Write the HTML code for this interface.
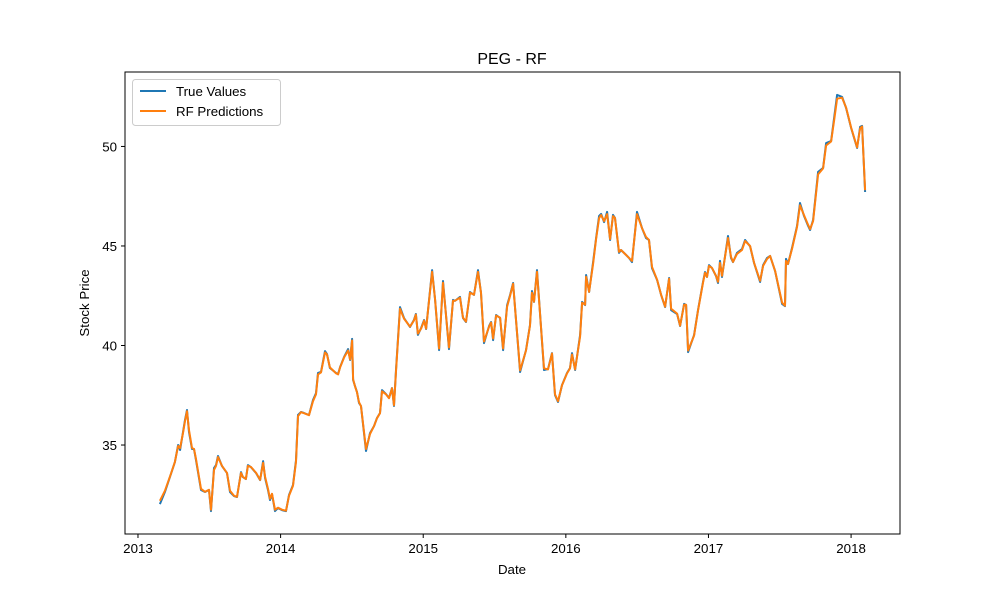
<!DOCTYPE html>
<html><head><meta charset="utf-8"><style>
body{margin:0;background:#fff;}
svg{display:block;font-family:"Liberation Sans","DejaVu Sans",sans-serif;}
</style></head><body>
<svg id="chart" width="1000" height="600">
<rect width="1000" height="600" fill="#fff"/>
<text x="512" y="64" text-anchor="middle" font-size="16">PEG - RF</text>
<text x="512" y="574" text-anchor="middle" font-size="13.3">Date</text>
<text x="0" y="0" transform="translate(89,303) rotate(-90)" text-anchor="middle" font-size="13.3">Stock Price</text>
<g id="ticks"></g>
<g id="lines"></g>
<rect x="125" y="72" width="775" height="462" fill="none" stroke="#000" stroke-width="1"/>
<g>
<rect x="132.5" y="79.5" width="148" height="46" rx="3" fill="#fff" fill-opacity="0.8" stroke="#ccc"/>
<line x1="140" y1="91" x2="166" y2="91" stroke="#1f77b4" stroke-width="2"/>
<text x="176" y="96" font-size="13.3">True Values</text>
<line x1="140" y1="111" x2="166" y2="111" stroke="#ff7f0e" stroke-width="2"/>
<text x="176" y="116" font-size="13.3">RF Predictions</text>
</g>
</svg>
<script>
const dates=[.154,.189,.231,.259,.281,.295,.316,.330,.344,.358,.379,.393,.407,.428,.442,.470,.498,.512,.533,.547,.561,.589,.624,.645,.673,.694,.722,.736,.757,.771,.792,.828,.856,.877,.891,.912,.926,.940,.961,.982,1.010,1.038,1.059,1.087,1.108,1.122,1.143,1.164,1.199,1.227,1.248,1.262,1.283,1.311,1.325,1.346,1.389,1.403,1.417,1.445,1.473,1.487,1.501,1.508,1.522,1.536,1.550,1.564,1.599,1.627,1.655,1.676,1.697,1.711,1.739,1.760,1.781,1.795,1.809,1.837,1.865,1.907,1.935,1.949,1.963,1.985,2.006,2.020,2.062,2.083,2.111,2.139,2.181,2.209,2.223,2.258,2.279,2.300,2.328,2.356,2.384,2.405,2.426,2.462,2.476,2.490,2.511,2.539,2.560,2.588,2.609,2.630,2.679,2.721,2.749,2.763,2.777,2.798,2.847,2.875,2.903,2.924,2.945,2.973,3.008,3.029,3.043,3.065,3.100,3.114,3.135,3.142,3.163,3.191,3.212,3.233,3.247,3.268,3.289,3.310,3.331,3.345,3.373,3.387,3.422,3.443,3.464,3.499,3.534,3.562,3.583,3.604,3.640,3.668,3.696,3.724,3.738,3.780,3.801,3.829,3.843,3.857,3.899,3.927,3.962,3.976,3.990,4.004,4.025,4.053,4.067,4.081,4.095,4.137,4.158,4.172,4.200,4.235,4.257,4.292,4.320,4.362,4.383,4.411,4.432,4.467,4.516,4.537,4.544,4.558,4.586,4.621,4.642,4.670,4.699,4.713,4.734,4.769,4.804,4.825,4.860,4.881,4.902,4.937,4.965,5.000,5.042,5.063,5.077,5.098];
const trueVals=[32.03,32.64,33.54,34.14,35.00,34.75,35.65,36.26,36.76,35.65,34.80,34.80,34.24,33.34,32.74,32.64,32.74,31.68,33.84,33.99,34.45,33.94,33.59,32.64,32.44,32.39,33.64,33.39,33.29,33.99,33.89,33.59,33.24,34.19,33.34,32.74,32.24,32.54,31.68,31.83,31.73,31.68,32.49,32.99,34.24,36.51,36.66,36.61,36.51,37.26,37.61,38.62,38.67,39.72,39.57,38.87,38.62,38.57,38.92,39.42,39.82,39.27,40.33,38.27,37.96,37.66,37.11,36.96,34.70,35.60,35.95,36.36,36.61,37.76,37.56,37.36,37.86,36.96,38.77,41.93,41.38,40.93,41.28,41.58,40.53,40.88,41.28,40.83,43.79,42.29,39.77,43.24,39.82,42.29,42.24,42.44,41.38,41.18,42.69,42.54,43.79,42.64,40.12,40.98,41.18,40.27,41.53,41.38,39.77,42.03,42.54,43.14,38.67,39.77,41.03,42.74,42.19,43.79,38.77,38.82,39.62,37.51,37.16,38.01,38.62,38.87,39.62,38.77,40.53,42.19,42.03,43.54,42.69,44.19,45.40,46.51,46.61,46.20,46.71,45.30,46.56,46.41,44.65,44.80,44.55,44.40,44.19,46.71,45.90,45.40,45.30,43.89,43.29,42.54,41.93,43.39,41.78,41.58,40.98,42.09,42.03,39.67,40.53,41.78,43.19,43.69,43.44,44.04,43.89,43.49,43.14,44.25,43.44,45.50,44.40,44.19,44.65,44.85,45.30,44.98,44.14,43.19,44.04,44.40,44.50,43.74,42.09,41.98,44.35,44.09,44.90,46.00,47.16,46.51,46.00,45.80,46.31,48.72,48.92,50.17,50.27,51.43,52.59,52.49,51.93,50.93,49.92,50.98,51.03,47.71];
const predVals=[32.20,32.70,33.55,34.15,34.95,34.85,35.60,36.20,36.70,35.75,34.85,34.80,34.30,33.40,32.80,32.65,32.75,31.75,33.75,33.95,34.40,33.95,33.60,32.70,32.45,32.40,33.60,33.40,33.30,33.95,33.90,33.60,33.25,34.10,33.40,32.80,32.30,32.55,31.75,31.85,31.75,31.70,32.45,32.95,34.15,36.45,36.65,36.60,36.50,37.20,37.55,38.55,38.65,39.65,39.55,38.90,38.60,38.55,38.90,39.40,39.75,39.30,40.25,38.30,37.95,37.65,37.15,36.95,34.80,35.55,35.95,36.35,36.60,37.70,37.55,37.35,37.85,37.00,38.70,41.85,41.35,40.95,41.25,41.55,40.60,40.85,41.25,40.85,43.70,42.30,39.85,43.15,39.90,42.25,42.25,42.40,41.40,41.20,42.65,42.55,43.70,42.65,40.20,40.95,41.15,40.35,41.50,41.40,39.85,41.95,42.50,43.10,38.75,39.75,41.00,42.65,42.20,43.70,38.85,38.80,39.60,37.55,37.20,38.00,38.60,38.85,39.55,38.80,40.45,42.15,42.05,43.45,42.70,44.10,45.35,46.40,46.55,46.25,46.60,45.35,46.50,46.40,44.70,44.80,44.55,44.40,44.25,46.60,45.90,45.45,45.30,43.95,43.30,42.55,41.95,43.35,41.85,41.60,41.00,42.05,42.05,39.75,40.50,41.75,43.15,43.65,43.45,44.00,43.90,43.50,43.20,44.15,43.50,45.40,44.45,44.20,44.60,44.80,45.25,45.00,44.15,43.25,44.00,44.35,44.50,43.75,42.15,42.00,44.25,44.10,44.85,45.95,47.05,46.55,46.05,45.85,46.25,48.60,48.90,50.05,50.25,51.30,52.40,52.45,51.95,50.95,49.95,50.90,51.00,47.80];
const xTicks=[2013,2014,2015,2016,2017,2018];
const yTicks=[35,40,45,50];
const X0=125,X1=900,Y0=534,Y1=72;
const tMin=-0.091,tMax=5.343,vMin=30.53,vMax=53.74;
function xs(t){return X0+(t-tMin)/(tMax-tMin)*(X1-X0);}
function ys(v){return Y0-(v-vMin)/(vMax-vMin)*(Y0-Y1);}
const NS='http://www.w3.org/2000/svg';
const tg=document.getElementById('ticks');
xTicks.forEach(yr=>{
  const x=xs(yr-2013);
  const l=document.createElementNS(NS,'line');
  l.setAttribute('x1',x);l.setAttribute('x2',x);l.setAttribute('y1',Y0);l.setAttribute('y2',Y0+4);l.setAttribute('stroke','#000');
  
  
  tg.appendChild(l);
  const t=document.createElementNS(NS,'text');
  t.setAttribute('x',x);t.setAttribute('y',Y0+19);t.setAttribute('text-anchor','middle');t.setAttribute('font-size','13.3');
  t.textContent=yr;
  
  
  tg.appendChild(t);
});
yTicks.forEach(v=>{
  const y=ys(v);
  const l=document.createElementNS(NS,'line');
  l.setAttribute('x1',X0-4);l.setAttribute('x2',X0);l.setAttribute('y1',y);l.setAttribute('y2',y);l.setAttribute('stroke','#000');
  
  
  tg.appendChild(l);
  const t=document.createElementNS(NS,'text');
  t.setAttribute('x',X0-8);t.setAttribute('y',y+5);t.setAttribute('text-anchor','end');t.setAttribute('font-size','13.3');
  t.textContent=v;
  
  
  tg.appendChild(t);
});
const lg=document.getElementById('lines');
function drawLine(vals,color,name){
  const p=document.createElementNS(NS,'polyline');
  p.setAttribute('points',vals.map((v,i)=>xs(dates[i]).toFixed(1)+','+ys(v).toFixed(1)).join(' '));
  p.setAttribute('fill','none');p.setAttribute('stroke',color);p.setAttribute('stroke-width','2');p.setAttribute('stroke-linejoin','round');
  
  
  lg.appendChild(p);
}
drawLine(trueVals,'#1f77b4','true-values-line');
drawLine(predVals,'#ff7f0e','rf-predictions-line');
</script>
</body></html>
